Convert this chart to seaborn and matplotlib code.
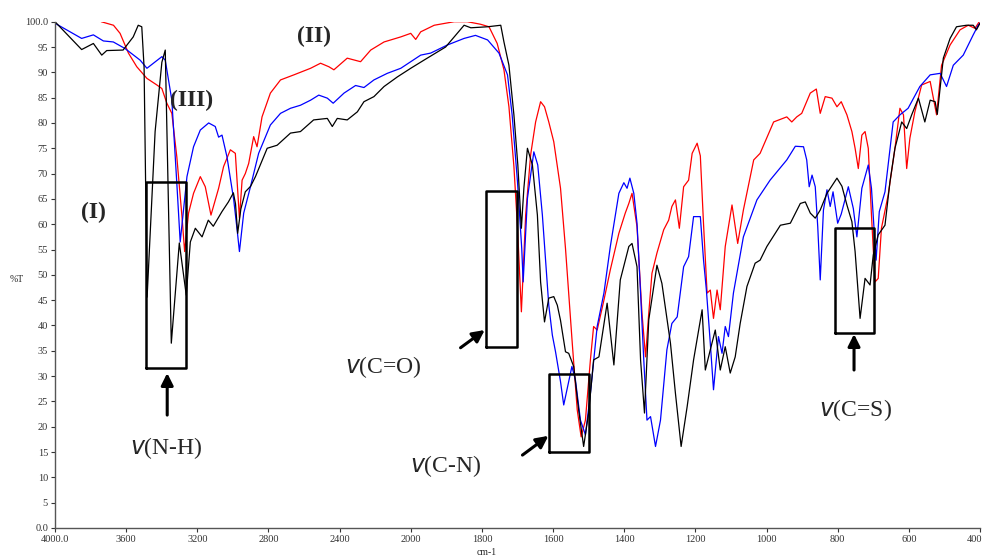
import numpy as np
import pandas as pd
import matplotlib
matplotlib.use("Agg")
import matplotlib.pyplot as plt
import matplotlib.transforms as mtransforms
import seaborn as sns

# spectrum (I) - black
wn_black = [4000, 3850, 3784, 3737, 3709, 3617, 3560, 3532, 3512, 3499, 3482, 3437, 3399, 3380,
            3346, 3301, 3262, 3239, 3211, 3173, 3138, 3110, 3061, 3025, 2997, 2985, 2973, 2955,
            2930, 2900, 2873, 2807, 2751, 2676, 2620, 2546, 2469, 2441, 2413, 2357, 2300, 2263,
            2207, 2150, 2075, 2000, 1963, 1902, 1850, 1831, 1784, 1747, 1738, 1724, 1710, 1699,
            1689, 1682, 1672, 1658, 1644, 1635, 1624, 1612, 1598, 1588, 1579, 1565, 1556, 1542,
            1528, 1514, 1500, 1486, 1471, 1448, 1429, 1411, 1387, 1378, 1364, 1354, 1343, 1331,
            1308, 1294, 1270, 1256, 1240, 1223, 1205, 1181, 1172, 1158, 1144, 1130, 1116, 1102,
            1088, 1074, 1055, 1032, 1018, 999, 961, 933, 905, 891, 877, 863, 849, 830, 802, 788,
            774, 760, 751, 737, 723, 709, 700, 686, 667, 653, 639, 620, 606, 592, 573, 555, 540,
            526, 520, 503, 484, 466, 438, 419, 410, 400]
t_black = [100, 94.5, 95.7, 93.4, 94.3, 94.4, 97, 99.3, 99, 91, 45.6, 78.3, 92, 94.4,
           36.5, 56.3, 46, 56.5, 59.2, 57.5, 60.8, 59.6, 62.5, 64.4, 66.2, 64, 58.2, 63,
           66.4, 67.5, 69.4, 75, 75.6, 78, 78.3, 80.6, 80.9, 79.3, 80.9, 80.6, 82.2, 84.2,
           85.2, 87.2, 89.1, 90.8, 92.4, 95, 99.3, 98.8, 99, 99.3, 96, 91.4, 81.6, 71.7,
           59.2, 67.1, 75, 71.7, 61.8, 48.6, 40.7, 45.4, 45.7, 44, 41, 34.8, 34.5, 31.9,
           23.3, 16.1, 22.7, 33.2, 33.8, 44.4, 32.2, 49, 55.6, 56.2, 51.6, 33.2, 22.7, 41.1,
           51.9, 48.3, 36.5, 26.6, 16.1, 24, 33.2, 43.1, 31.2, 35.2, 39.1, 31.2, 35.8, 30.6,
           33.8, 40.4, 47.7, 52.3, 52.9, 55.6, 59.8, 60.2, 64.1, 64.4, 62.2, 61.2, 62.8, 66.1, 69.1, 67.5,
           63.8, 60.5, 54.6, 41.4, 49.3, 48, 53.9, 57.9, 59.8, 68.4, 75, 80.2, 78.9, 81.6, 84.9, 80.2, 84.5,
           84.2, 81.7, 92.8, 96.7, 99, 99.3, 99.3, 98.4, 99.7]

# spectrum (III) - blue
wn_blue = [4000, 3850, 3784, 3728, 3672, 3606, 3521, 3483, 3399, 3380, 3343, 3315, 3296, 3258,
           3221, 3183, 3136, 3099, 3080, 3061, 3033, 2995, 2976, 2963, 2939, 2901, 2855, 2789,
           2732, 2676, 2620, 2563, 2517, 2469, 2436, 2375, 2310, 2263, 2207, 2132, 2056, 2000,
           1972, 1944, 1897, 1850, 1818, 1784, 1752, 1728, 1715, 1700, 1688, 1684, 1672, 1654,
           1643, 1630, 1612, 1602, 1593, 1579, 1570, 1547, 1537, 1523, 1509, 1495, 1476, 1457,
           1439, 1415, 1401, 1392, 1384, 1373, 1364, 1354, 1345, 1336, 1326, 1312, 1298, 1280,
           1266, 1251, 1233, 1219, 1205, 1186, 1177, 1169, 1158, 1149, 1135, 1125, 1116, 1107,
           1093, 1065, 1027, 990, 943, 919, 896, 887, 880, 872, 863, 856, 849, 840, 830, 821,
           813, 800, 790, 770, 756, 746, 732, 714, 705, 692, 683, 667, 644, 625, 602, 569, 540,
           512, 494, 475, 447, 419, 405, 400]
t_blue = [99.7, 96.7, 97.4, 96.2, 96, 94.7, 92.4, 90.8, 93.1, 92.4, 84.5, 68.1, 56.5, 69.4,
          75.3, 78.6, 80, 79.3, 77.2, 77.6, 73.3, 64.8, 58.9, 54.6, 62.2, 67.4, 74, 79.6,
          81.9, 82.9, 83.5, 84.5, 85.5, 84.9, 83.9, 85.9, 87.4, 87, 88.5, 89.8, 90.8, 92.1,
          93.4, 93.8, 95.4, 96.7, 97.3, 96.4, 93.8, 89.5, 81.6, 68.4, 55.2, 48.6, 65.1, 74.3,
          71.7, 61.8, 44, 38.1, 34.8, 28.9, 24.3, 31.9, 29.2, 21.3, 18.4, 26.6, 39.8, 46.4,
          55.6, 66.1, 68.2, 67.1, 69.1, 66.1, 60.2, 46.4, 33.2, 21.3, 22, 16.1, 21.3, 35.2,
          40.4, 41.7, 51.6, 53.6, 61.5, 61.5, 52.9, 47, 36.5, 27.3, 37.8, 34.5, 39.8, 37.8,
          46.4, 57.5, 64.8, 68.7, 72.7, 75.4, 75.3, 72.7, 67.4, 69.7, 67.4, 59.5, 49, 62.8, 66.8, 63.5,
          66.4, 60.2, 62, 67.4, 63.1, 57.5, 67.1, 71.7, 67.1, 52.9, 62.5, 66.4, 80.2, 81.6, 82.9, 87.2, 89.5,
          89.8, 87.2, 91.4, 93.4, 97.4, 99.3, 99.7]

# spectrum (II) - red
wn_red = [3740, 3671, 3634, 3587, 3540, 3483, 3427, 3399, 3371, 3343, 3315, 3286, 3271, 3249,
          3221, 3183, 3155, 3123, 3099, 3080, 3052, 3014, 2986, 2963, 2948, 2930, 2911, 2883,
          2864, 2836, 2789, 2732, 2657, 2563, 2507, 2460, 2432, 2357, 2282, 2225, 2150, 2056,
          2000, 1986, 1972, 1934, 1878, 1841, 1804, 1780, 1757, 1738, 1724, 1710, 1700, 1689,
          1677, 1663, 1649, 1635, 1624, 1612, 1598, 1579, 1565, 1546, 1532, 1521, 1509, 1495,
          1486, 1476, 1457, 1439, 1415, 1397, 1387, 1378, 1364, 1350, 1340, 1331, 1322, 1308,
          1289, 1275, 1266, 1256, 1245, 1233, 1219, 1209, 1195, 1186, 1177, 1167, 1158, 1149,
          1139, 1130, 1116, 1097, 1081, 1065, 1036, 1018, 980, 943, 929, 915, 901, 877, 860,
          849, 835, 816, 802, 790, 774, 760, 751, 742, 732, 723, 714, 705, 695, 686, 677, 658,
          639, 625, 615, 606, 597, 583, 564, 540, 522, 508, 484, 456, 433, 414, 402]
t_red = [100, 99.3, 97.7, 93.8, 91.1, 88.8, 87.5, 86.8, 83.9, 81.9, 73.3, 61.5, 54.6, 62.2,
         66.1, 69.4, 67.4, 61.8, 64.8, 67.1, 71.4, 74.7, 74, 61.2, 68.7, 70, 72, 77.3,
         75.3, 81.2, 85.9, 88.5, 89.5, 90.8, 91.8, 91.1, 90.5, 92.8, 92.1, 94.4, 96, 97,
         97.7, 96.5, 98, 99.3, 100, 100, 99.5, 99, 95.7, 90.5, 83.2, 71.4, 59.5, 42.7,
         61.8, 73.7, 80.2, 84.2, 83.2, 80.2, 76.3, 67.1, 55.2, 36.5, 23.3, 18, 21.3, 33.2,
         39.8, 39.1, 45, 51, 58.2, 62.2, 64.1, 66.1, 59.5, 42.4, 33.8, 42.4, 50.3, 54.3,
         58.9, 60.8, 63.5, 64.8, 59.2, 67.4, 68.7, 74, 76, 73.5, 60, 46.4, 47, 41.4,
         47, 43.1, 55.6, 63.8, 56.2, 62.8, 72.7, 74, 80.2, 81.2, 80.2, 81.2, 81.9, 85.9, 86.7,
         81.9, 85.2, 84.9, 83.2, 84.2, 81.6, 78.3, 75, 71, 77.6, 78.3, 75, 61.8, 48.6, 49.3, 59.2, 65.8,
         75, 82.9, 81.6, 71, 77, 82.2, 87.5, 88.2, 81.6, 91.4, 95.4, 98.4, 99.3, 98.7, 100]

x_ticks = [4000, 3600, 3200, 2800, 2400, 2000, 1800, 1600, 1400, 1200, 1000, 800, 600, 400]
x_tick_labels = ["4000.0"] + [str(v) for v in x_ticks[1:]]
y_ticks = list(range(0, 101, 5))
y_tick_labels = ["0.0"] + [str(v) for v in y_ticks[1:-1]] + ["100.0"]

df = pd.concat([
    pd.DataFrame({"wn": wn_red, "T": t_red, "sample": "II"}),
    pd.DataFrame({"wn": wn_blue, "T": t_blue, "sample": "III"}),
    pd.DataFrame({"wn": wn_black, "T": t_black, "sample": "I"}),
])

sns.set_theme(style="ticks")
plt.rcParams["font.family"] = ["Liberation Serif", "DejaVu Serif"]

fig = plt.figure(figsize=(9.85, 5.58), dpi=100)
ax = fig.add_axes([0.0558, 0.0538, 0.9391, 0.9073])


# spectrometer style axis: 4000-2000 compressed 2x vs 2000-400
def fwd(x):
    x = np.asarray(x, dtype=float)
    return np.where(x <= 2000, 2 * x, x + 2000)


def inv(u):
    u = np.asarray(u, dtype=float)
    return np.where(u <= 4000, u / 2, u - 2000)


ax.set_xscale("function", functions=(fwd, inv))

sns.lineplot(data=df, x="wn", y="T", hue="sample", estimator=None, sort=False,
             palette={"I": "black", "II": "#ff0000", "III": "#0000ff"},
             hue_order=["II", "III", "I"], linewidth=0.9, legend=False, ax=ax)

ax.set_xlim(4000, 400)
ax.set_ylim(0, 100)
ax.set_xticks(x_ticks)
ax.set_xticklabels(x_tick_labels)
ax.set_yticks(y_ticks)
ax.set_yticklabels(y_tick_labels)
ax.minorticks_off()
ax.tick_params(labelsize=7.5, length=3, width=0.8, colors="#333333", pad=2)
ax.set_xlabel("")
ax.set_ylabel("")
for s in ["left", "bottom"]:
    ax.spines[s].set_color("#555555")
    ax.spines[s].set_linewidth(1)
sns.despine(ax=ax)

# keep the last tick label inside the figure
last = ax.get_xticklabels()[-1]
last.set_transform(last.get_transform() + mtransforms.ScaledTranslation(-5 / 100, 0, fig.dpi_scale_trans))

fig.text(0.017, 0.50, "%T", fontsize=7, ha="center", va="center")
fig.text(0.494, 0.01, "cm-1", fontsize=7, ha="center", va="center")

# boxes around bands
boxes = [(3487, 3262, 31.6, 68.3), (1789, 1702, 35.7, 66.6),
         (1610, 1498, 15.0, 30.4), (807, 698, 38.5, 59.3)]
for x0, x1, y0, y1 in boxes:
    ax.plot([x0, x1, x1, x0, x0], [y0, y0, y1, y1, y0], color="black", lw=1.8)

arrow = dict(arrowstyle="-|>", color="black", lw=2.2, mutation_scale=18, shrinkA=0, shrinkB=0)
ax.annotate("", xy=(3369, 30.6), xytext=(3369, 22.3), arrowprops=arrow)
ax.annotate("", xy=(1792, 39.1), xytext=(1860, 35.6), arrowprops=arrow)
ax.annotate("", xy=(1613, 18.2), xytext=(1686, 14.4), arrowprops=arrow)
ax.annotate("", xy=(754, 38.3), xytext=(754, 31.2), arrowprops=arrow)

lab = dict(fontsize=17, ha="center", va="center")
ax.text(3375, 15.8, r"$\mathit{v}$(N-H)", **lab)
ax.text(2152, 31.8, r"$\mathit{v}$(C=O)", **lab)
ax.text(1902, 12.2, r"$\mathit{v}$(C-N)", **lab)
ax.text(751, 23.3, r"$\mathit{v}$(C=S)", **lab)

big = dict(fontsize=17, fontweight="bold", ha="center", va="center")
ax.text(3786, 62.4, "(I)", **big)
ax.text(2546, 97, "(II)", **big)
ax.text(3234, 84.5, "(III)", **big)

fig.savefig("out.png", dpi=100)
